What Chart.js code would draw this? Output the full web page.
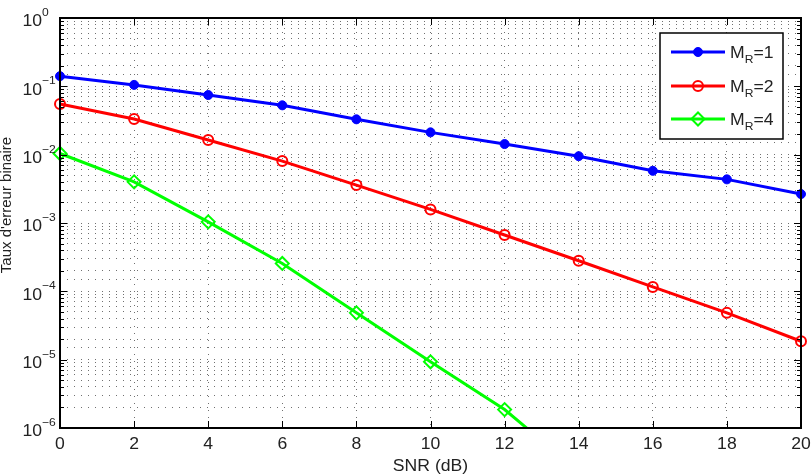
<!DOCTYPE html>
<html>
<head>
<meta charset="utf-8">
<script src="https://cdn.jsdelivr.net/npm/chart.js@4/dist/chart.umd.min.js"></script>
<style>
  html, body { margin: 0; padding: 0; background: #fff; }
  #wrap { width: 811px; height: 476px; }
</style>
</head>
<body>
<div id="wrap"><canvas id="chart" width="811" height="476"></canvas></div>
<script>
"use strict";

// SNR values (dB)
const snr = [0, 2, 4, 6, 8, 10, 12, 14, 16, 18, 20];

// bit error rate for each number of receive antennas
const berMR1 = [0.141, 0.105, 0.0746, 0.0527, 0.0329, 0.0212, 0.0143, 0.0095, 0.0058, 0.00435, 0.00265];
const berMR2 = [0.0551, 0.0332, 0.0164, 0.00806, 0.00359, 0.00158, 0.000668, 0.00028, 0.000116, 0.0000484, 0.0000186];
const berMR4 = [0.0104, 0.0040, 0.00104, 0.000256, 0.0000484, 0.0000093, 0.00000186, 0.00000023];

const seriesNames = ["1", "2", "4"];
const xTicks = [0, 2, 4, 6, 8, 10, 12, 14, 16, 18, 20];
const yExponents = [0, -1, -2, -3, -4, -5, -6];

const FONT = "'Liberation Sans', Arial, sans-serif";
const TEXT = "#222";
const STRETCH = 1.1; // the source text is a little wider than Arial

function points(values) {
    return values.map((v, i) => ({ x: snr[i], y: v }));
}

// draw horizontal text slightly stretched, returns the drawn width
function wideText(ctx, str, x, y, align) {
    const w = ctx.measureText(str).width * STRETCH;
    let left = x;
    if (align === "center") left = x - w / 2;
    else if (align === "right") left = x - w;
    ctx.save();
    ctx.textAlign = "left";
    ctx.translate(left, y);
    ctx.scale(STRETCH, 1);
    ctx.fillText(str, 0, 0);
    ctx.restore();
    return w;
}

const datasets = [
    {
        label: "M_R=1", data: points(berMR1),
        borderColor: "#0000ff", backgroundColor: "#0000ff",
        pointStyle: "circle", pointRadius: 4.5, pointBorderWidth: 1
    },
    {
        label: "M_R=2", data: points(berMR2),
        borderColor: "#ff0000", backgroundColor: "#ffffff00",
        pointStyle: "circle", pointRadius: 5, pointBorderWidth: 2
    },
    {
        label: "M_R=4", data: points(berMR4),
        borderColor: "#00ff00", backgroundColor: "#ffffff00",
        pointStyle: "rectRot", pointRadius: 6.5, pointBorderWidth: 2
    }
];
datasets.forEach(d => {
    d.borderWidth = 3;
    d.pointBackgroundColor = d.backgroundColor;
    d.pointBorderColor = d.borderColor;
    d.tension = 0;
    d.clip = { left: 12, right: 12, top: 12, bottom: 0 };
});

// box, inward ticks, tick labels, titles and legend in MATLAB style
const matlabAxes = {
    id: "matlabAxes",
    afterDraw(chart) {
        const ctx = chart.ctx;
        const a = chart.chartArea;
        const xs = chart.scales.x, ys = chart.scales.y;
        ctx.save();

        // inward tick marks
        ctx.strokeStyle = "#000";
        ctx.lineWidth = 1;
        ctx.beginPath();
        xTicks.forEach(t => {
            const px = Math.round(xs.getPixelForValue(t)) + 0.5;
            ctx.moveTo(px, a.bottom); ctx.lineTo(px, a.bottom - 7);
            ctx.moveTo(px, a.top); ctx.lineTo(px, a.top + 7);
        });
        for (let e = -6; e < 0; e++) {
            for (let m = 1; m <= 9; m++) {
                const py = Math.round(ys.getPixelForValue(m * Math.pow(10, e))) + 0.5;
                const len = m === 1 ? 7 : 4;
                ctx.moveTo(a.left, py); ctx.lineTo(a.left + len, py);
                ctx.moveTo(a.right, py); ctx.lineTo(a.right - len, py);
            }
        }
        ctx.stroke();

        // box
        ctx.lineWidth = 2;
        ctx.strokeRect(a.left, a.top, a.right - a.left, a.bottom - a.top);

        // x tick labels
        ctx.fillStyle = TEXT;
        ctx.font = "16px " + FONT;
        ctx.textBaseline = "top";
        xTicks.forEach(t => wideText(ctx, String(t), xs.getPixelForValue(t), a.bottom + 9, "center"));

        // y tick labels 10^n
        yExponents.forEach(e => {
            const py = ys.getPixelForValue(Math.pow(10, e));
            ctx.font = "16px " + FONT;
            ctx.textBaseline = "middle";
            wideText(ctx, "10", 42, py + 4, "right");
            ctx.font = "11px " + FONT;
            wideText(ctx, e === 0 ? "0" : "\u2212" + (-e), 42, py - 5, "left");
        });

        // axis titles
        ctx.font = "16px " + FONT;
        ctx.textBaseline = "alphabetic";
        wideText(ctx, "SNR (dB)", (a.left + a.right) / 2, 471, "center");
        ctx.save();
        ctx.font = "15px " + FONT;
        ctx.textAlign = "center";
        ctx.translate(11, 205);
        ctx.rotate(-Math.PI / 2);
        ctx.fillText("Taux d'erreur binaire", 0, 0);
        ctx.restore();

        // legend
        const lx = 660, ly = 33, lw = 123, lh = 106;
        ctx.fillStyle = "#fff";
        ctx.fillRect(lx, ly, lw, lh);
        ctx.strokeStyle = "#000";
        ctx.lineWidth = 1.5;
        ctx.strokeRect(lx, ly, lw, lh);
        const rows = [52, 86, 119];
        chart.data.datasets.forEach((d, i) => {
            const y = rows[i];
            ctx.strokeStyle = d.borderColor;
            ctx.lineWidth = 3;
            ctx.beginPath();
            ctx.moveTo(671, y); ctx.lineTo(725, y);
            ctx.stroke();
            ctx.lineWidth = d.pointBorderWidth;
            ctx.fillStyle = d.pointBackgroundColor;
            Chart.helpers.drawPoint(ctx, { pointStyle: d.pointStyle, radius: d.pointRadius, borderWidth: d.pointBorderWidth }, 698, y);
            ctx.fillStyle = TEXT;
            ctx.textBaseline = "alphabetic";
            ctx.font = "16px " + FONT;
            const mw = wideText(ctx, "M", 730, y + 6, "left");
            ctx.font = "11px " + FONT;
            const rw = wideText(ctx, "R", 730 + mw, y + 11, "left");
            ctx.font = "16px " + FONT;
            wideText(ctx, "=" + seriesNames[i], 730 + mw + rw, y + 6, "left");
        });

        ctx.restore();
    }
};

new Chart(document.getElementById("chart"), {
    type: "line",
    data: { datasets: datasets },
    options: {
        responsive: false,
        animation: false,
        layout: { padding: { top: 18, right: 10, left: 0, bottom: 0 } },
        plugins: { legend: { display: false }, tooltip: { enabled: false } },
        scales: {
            x: {
                type: "linear", min: 0, max: 20,
                ticks: { stepSize: 2, display: false },
                grid: { color: "#707070", lineWidth: 1, drawTicks: false },
                border: { display: false, dash: [1, 6] },
                afterFit(scale) { scale.height = 48; }
            },
            y: {
                type: "logarithmic", min: 1e-6, max: 1,
                ticks: { display: false, autoSkip: false },
                grid: { color: "#707070", lineWidth: 1, drawTicks: false },
                border: { display: false, dash: [1, 6] },
                afterFit(scale) { scale.width = 60; }
            }
        }
    },
    plugins: [matlabAxes]
});
</script>
</body>
</html>
